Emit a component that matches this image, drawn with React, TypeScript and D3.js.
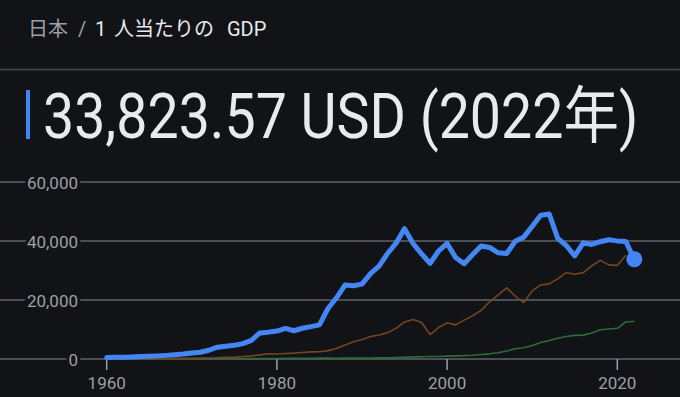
import React from 'react';
import * as d3 from 'd3';

// GDP per capita, current USD
const years = d3.range(1960, 2023);

const japan = [
  475, 564, 634, 718, 835, 919, 1059, 1229, 1450, 1669,
  2038, 2272, 2967, 3998, 4354, 4659, 5198, 6335, 8821, 9105,
  9463, 10361, 9578, 10425, 10984, 11585, 17112, 20745, 25052, 24813,
  25371, 28925, 31465, 35766, 39269, 44198, 39150, 35635, 32423, 36610,
  39169, 34406, 32289, 35387, 38299, 37813, 35991, 35779, 39877, 41309,
  44968, 48760, 49145, 40898, 38475, 34961, 39375, 38834, 39751, 40416,
  40040, 39827, 33824,
];

const korea = [
  158, 94, 106, 146, 124, 108, 133, 161, 197, 243,
  279, 301, 324, 406, 563, 617, 834, 1055, 1406, 1784,
  1715, 1883, 1993, 2199, 2413, 2482, 2835, 3555, 4754, 5817,
  6610, 7637, 8127, 8885, 10385, 12565, 13403, 12398, 8282, 10672,
  12257, 11561, 13165, 14673, 16496, 19402, 21743, 24086, 21350, 19143,
  23087, 25100, 25459, 27180, 29253, 28737, 29274, 31601, 33447, 31902,
  31721, 35142,
];

const china = [
  90, 76, 70, 74, 85, 98, 104, 97, 91, 100,
  113, 119, 132, 157, 160, 178, 165, 185, 156, 184,
  195, 197, 203, 225, 251, 294, 282, 251, 284, 311,
  318, 333, 366, 377, 473, 610, 709, 782, 829, 873,
  959, 1053, 1149, 1289, 1509, 1753, 2099, 2694, 3468, 3832,
  4550, 5614, 6301, 7020, 7636, 8016, 8094, 8817, 9905, 10144,
  10409, 12618, 12720,
];

const yTicks = [0, 20000, 40000, 60000];
const xTicks = [1960, 1980, 2000, 2020];

const W = 680;
const H = 397;
const BG = '#121317';
const FONT = "Roboto, 'Noto Sans CJK JP', sans-serif";

export default function App() {
  const x = d3.scaleLinear().domain([1960, 2020]).range([106.7, 617.3]);
  const y = d3.scaleLinear().domain([0, 60000]).range([359, 182]);

  const line = d3
    .line<number>()
    .x((_, i) => x(years[i]))
    .y((d) => y(d));

  const fmt = d3.format(',');
  const lastIdx = japan.length - 1;

  return (
    <svg
      width={W}
      height={H}
      style={{ position: 'absolute', left: 0, top: 0, display: 'block' }}
      fontFamily={FONT}
    >
      <rect width={W} height={H} fill={BG} />

      {/* header */}
      <text y={36} fontSize={20}>
        <tspan x={28} fill="#9aa0a6">日本</tspan>
        <tspan x={78} fill="#9aa0a6">/</tspan>
        <tspan x={95} fill="#e8eaed">1</tspan>
        <tspan x={114} fill="#e8eaed">人当たりの</tspan>
        <tspan x={227} fill="#e8eaed">GDP</tspan>
      </text>
      <line x1={0} x2={W} y1={69.5} y2={69.5} stroke="#3c4043" strokeWidth={2} />

      <rect x={26} y={90} width={4} height={49} fill="#4285f4" />
      <text
        transform="translate(43,138) scale(1,1.12)"
        fontSize={55.5}
        fill="#e8eaed"
      >
        {`${d3.format(',.2f')(33823.57)} USD (2022年)`}
      </text>

      {/* grid */}
      {yTicks.map((t) => (
        <g key={t}>
          <line x1={0} x2={W} y1={y(t)} y2={y(t)} stroke="#5f6368" strokeWidth={1.5} />
          <text
            x={78}
            y={y(t) + 6.5}
            textAnchor="end"
            fontSize={17}
            fill="#9aa0a6"
            stroke={BG}
            strokeWidth={6}
            paintOrder="stroke"
          >
            {fmt(t)}
          </text>
        </g>
      ))}

      {xTicks.map((t) => (
        <g key={t}>
          <line x1={x(t)} x2={x(t)} y1={y(0)} y2={370} stroke="#9aa0a6" strokeWidth={1.5} />
          <text x={x(t)} y={389} textAnchor="middle" fontSize={17} fill="#9aa0a6">
            {t}
          </text>
        </g>
      ))}

      <path d={line(china) || ''} fill="none" stroke="#2f6b3b" strokeWidth={1.6} strokeLinejoin="round" />
      <path d={line(korea) || ''} fill="none" stroke="#74461f" strokeWidth={1.6} strokeLinejoin="round" />
      <path
        d={line(japan) || ''}
        fill="none"
        stroke="#4287f5"
        strokeWidth={5}
        strokeLinejoin="round"
        strokeLinecap="round"
      />
      <circle cx={x(years[lastIdx])} cy={y(japan[lastIdx])} r={8} fill="#4287f5" />
    </svg>
  );
}
